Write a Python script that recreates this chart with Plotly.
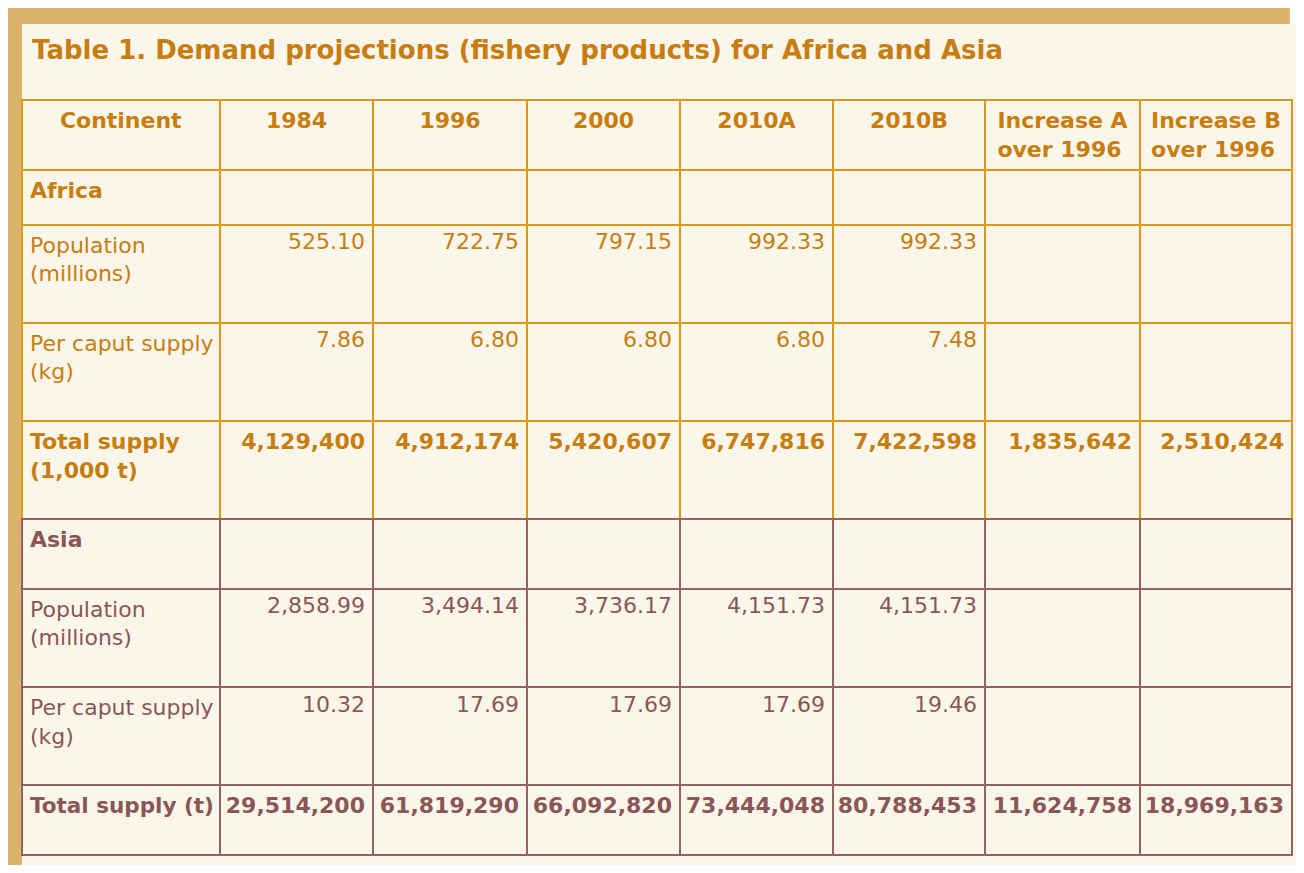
"""Demand projections (fishery products) for Africa and Asia."""

import plotly.graph_objects as go

# header and row labels
columns = ["Continent", "1984", "1996", "2000", "2010A", "2010B",
           "Increase A<br>over 1996", "Increase B<br>over 1996"]
years = ["1984", "1996", "2000", "2010A", "2010B"]

# Africa
africa_pop = [525.10, 722.75, 797.15, 992.33, 992.33]
africa_caput = [7.86, 6.80, 6.80, 6.80, 7.48]
africa_total = [4129400, 4912174, 5420607, 6747816, 7422598]
africa_increase = [1835642, 2510424]

# Asia
asia_pop = [2858.99, 3494.14, 3736.17, 4151.73, 4151.73]
asia_caput = [10.32, 17.69, 17.69, 17.69, 19.46]
asia_total = [29514200, 61819290, 66092820, 73444048, 80788453]
asia_increase = [11624758, 18969163]

row_labels = ["<b>Africa</b>", "Population<br>(millions)", "Per caput supply<br>(kg)",
              "<b>Total supply<br>(1,000 t)</b>", "<b>Asia</b>", "Population<br>(millions)",
              "Per caput supply<br>(kg)",
              "<span style='font-size:21.5px'><b>Total supply (t)</b></span>"]

ORANGE = "#c87d10"
MAUVE = "#8a5656"
LINE_OR = "#d99a14"
LINE_MV = "#996262"
CREAM = "#fbf6ea"
TAN = "#dcb36a"

# page is drawn inside the 8px body margin of the html page
W, H = 1288, 857


def px(x):
    return (x - 8) / W


def py(y):
    return 1 - (y - 8) / H


# extra blank lines so the rows get roughly the heights of the printed table
row_pad = [0, 1, 1, 1, 1, 1, 1, 1]


def pad(txt, n):
    return txt + "<br> " * n


label_col = [pad(t, row_pad[i]) for i, t in enumerate(row_labels)]

cols = [label_col]
for j in range(len(years)):
    col = ["", f"{africa_pop[j]:,.2f}", f"{africa_caput[j]:.2f}", f"<b>{africa_total[j]:,}</b>",
           "", f"{asia_pop[j]:,.2f}", f"{asia_caput[j]:.2f}", f"<b>{asia_total[j]:,}</b>"]
    cols.append(col)
for j in range(2):
    col = ["", "", "", f"<b>{africa_increase[j]:,}</b>",
           "", "", "", f"<b>{asia_increase[j]:,}</b>"]
    cols.append(col)

n_rows = len(row_labels)
font_colors = [[ORANGE if r < 4 else MAUVE for r in range(n_rows)] for _ in cols]
line_colors = [[LINE_OR if r < 4 else LINE_MV for r in range(n_rows)] for _ in cols]

fig = go.Figure(go.Table(
    columnwidth=[198, 153, 154, 153, 153, 152, 155, 152],
    header=dict(
        values=[f"<b>{c}</b>" for c in columns],
        align="center",
        height=64,
        fill_color=CREAM,
        line=dict(color=LINE_OR, width=2),
        font=dict(family="DejaVu Sans", size=22, color=ORANGE),
    ),
    cells=dict(
        values=cols,
        align=["left"] + ["right"] * (len(cols) - 1),
        height=55,
        fill_color=CREAM,
        line=dict(color=line_colors, width=2),
        font=dict(family="DejaVu Sans", size=22, color=font_colors),
    ),
    domain=dict(x=[px(22), px(1292)], y=[0, py(100)]),
))

# tan frame and cream page
fig.add_shape(type="rect", xref="paper", yref="paper", layer="below",
              x0=px(8), x1=px(1290), y0=py(865), y1=py(8),
              fillcolor=TAN, line_width=0)
fig.add_shape(type="rect", xref="paper", yref="paper", layer="below",
              x0=px(22), x1=px(1296), y0=py(865), y1=py(24),
              fillcolor=CREAM, line_width=0)

fig.add_annotation(
    text="<b>Table 1. Demand projections (fishery products) for Africa and Asia</b>",
    xref="paper", yref="paper", x=px(30), y=py(50),
    xanchor="left", yanchor="middle", showarrow=False,
    font=dict(family="DejaVu Sans", size=26, color=ORANGE),
)

fig.update_layout(
    width=W, height=H,
    margin=dict(l=0, r=0, t=0, b=0),
    paper_bgcolor="white",
)

fig.write_html("out.html")
